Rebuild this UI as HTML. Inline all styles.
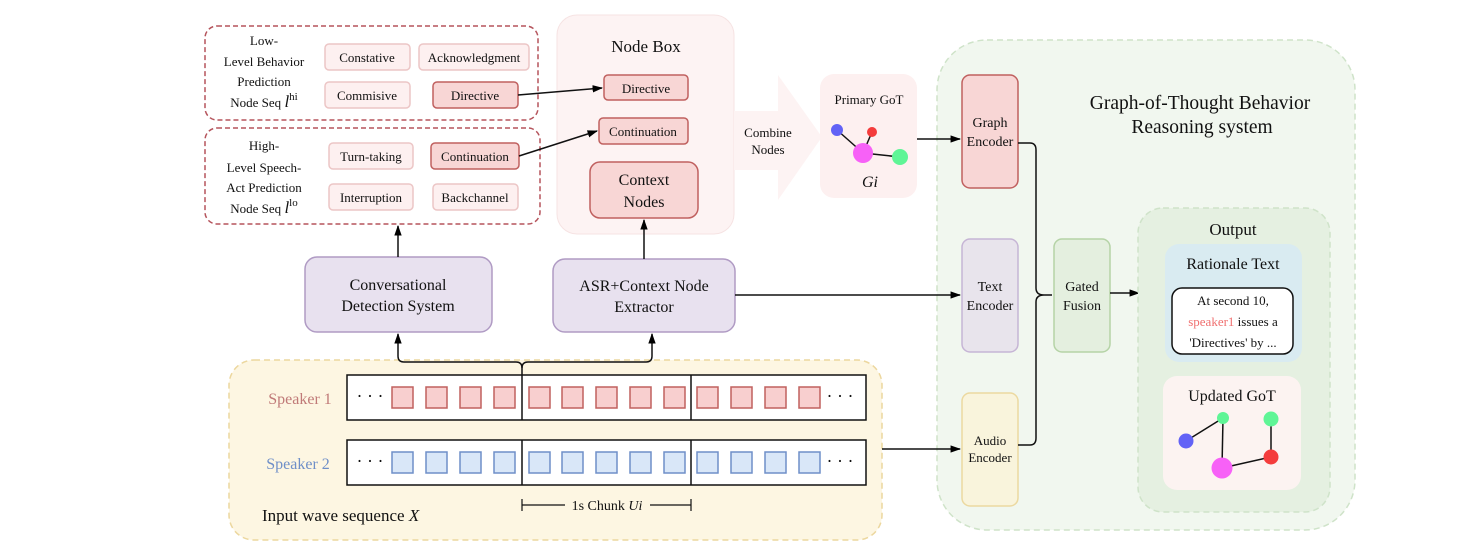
<!DOCTYPE html>
<html><head><meta charset="utf-8"><style>
body{margin:0;background:#fff}
svg{display:block}
text{font-family:"Liberation Serif","DejaVu Serif",serif;fill:#111}
</style></head><body>
<svg width="1466" height="558" viewBox="0 0 1466 558" xmlns="http://www.w3.org/2000/svg">
<defs>
<marker id="a" viewBox="0 0 10 10" refX="9" refY="5" markerWidth="7" markerHeight="7" orient="auto-start-reverse"><path d="M0,1.5 L10,5 L0,8.5 z" fill="#000"/></marker>
</defs>
<!-- big green system -->
<rect x="937" y="40" width="418" height="490" rx="50" fill="#f1f7ef" stroke="#cfe3c9" stroke-dasharray="6,4" stroke-width="1.5"/>
<text x="1200" y="109" font-size="19.5" text-anchor="middle">Graph-of-Thought Behavior</text>
<text x="1202" y="133" font-size="19.5" text-anchor="middle">Reasoning system</text>

<!-- input wave -->
<rect x="229" y="360" width="653" height="180" rx="25" fill="#fdf6e2" stroke="#ecd79e" stroke-dasharray="6,4" stroke-width="1.5"/>
<text x="262" y="521" font-size="17">Input wave sequence <tspan font-style="italic">X</tspan></text>
<text x="300" y="404" font-size="16" text-anchor="middle" style="fill:#c07a78">Speaker 1</text>
<text x="298" y="469" font-size="16" text-anchor="middle" style="fill:#6f8fc8">Speaker 2</text>
<rect x="347" y="375" width="519" height="45" fill="#fff" stroke="#111" stroke-width="1.5"/>
<rect x="347" y="440" width="519" height="45" fill="#fff" stroke="#111" stroke-width="1.5"/>
<line x1="522" y1="375" x2="522" y2="420" stroke="#111" stroke-width="1.5"/>
<line x1="691" y1="375" x2="691" y2="420" stroke="#111" stroke-width="1.5"/>
<line x1="522" y1="440" x2="522" y2="485" stroke="#111" stroke-width="1.5"/>
<line x1="691" y1="440" x2="691" y2="485" stroke="#111" stroke-width="1.5"/>
<text x="370" y="402" font-size="18" text-anchor="middle">· · ·</text>
<text x="840" y="402" font-size="18" text-anchor="middle">· · ·</text>
<text x="370" y="467" font-size="18" text-anchor="middle">· · ·</text>
<text x="840" y="467" font-size="18" text-anchor="middle">· · ·</text>
<g fill="#f8cfcf" stroke="#c0605f" stroke-width="1.5">
<rect x="392" y="387" width="21" height="21"/><rect x="426" y="387" width="21" height="21"/><rect x="460" y="387" width="21" height="21"/><rect x="494" y="387" width="21" height="21"/>
<rect x="529" y="387" width="21" height="21"/><rect x="562" y="387" width="21" height="21"/><rect x="596" y="387" width="21" height="21"/><rect x="630" y="387" width="21" height="21"/><rect x="664" y="387" width="21" height="21"/>
<rect x="697" y="387" width="21" height="21"/><rect x="731" y="387" width="21" height="21"/><rect x="765" y="387" width="21" height="21"/><rect x="799" y="387" width="21" height="21"/>
</g>
<g fill="#d9e7f8" stroke="#6f8fc8" stroke-width="1.5">
<rect x="392" y="452" width="21" height="21"/><rect x="426" y="452" width="21" height="21"/><rect x="460" y="452" width="21" height="21"/><rect x="494" y="452" width="21" height="21"/>
<rect x="529" y="452" width="21" height="21"/><rect x="562" y="452" width="21" height="21"/><rect x="596" y="452" width="21" height="21"/><rect x="630" y="452" width="21" height="21"/><rect x="664" y="452" width="21" height="21"/>
<rect x="697" y="452" width="21" height="21"/><rect x="731" y="452" width="21" height="21"/><rect x="765" y="452" width="21" height="21"/><rect x="799" y="452" width="21" height="21"/>
</g>
<path d="M522,499 v12 M522,505 H565 M650,505 H691 M691,499 v12" stroke="#111" stroke-width="1.2" fill="none"/>
<text x="607" y="510" font-size="14" text-anchor="middle">1s Chunk <tspan font-style="italic">Ui</tspan></text>
<!-- brace from wave -->
<path d="M522,375 V368 Q522,362 516,362 H404 Q398,362 398,356 V334" stroke="#111" stroke-width="1.5" fill="none" marker-end="url(#a)"/>
<path d="M522,368 Q522,362 528,362 H646 Q652,362 652,356 V334" stroke="#111" stroke-width="1.5" fill="none" marker-end="url(#a)"/>
<line x1="882" y1="449" x2="960" y2="449" stroke="#111" stroke-width="1.5" marker-end="url(#a)"/>

<!-- detection boxes -->
<rect x="305" y="257" width="187" height="75" rx="12" fill="#e8e1ef" stroke="#b09bc4" stroke-width="1.5"/>
<text x="398" y="290" font-size="16" text-anchor="middle">Conversational</text>
<text x="398" y="311" font-size="16" text-anchor="middle">Detection System</text>
<rect x="553" y="259" width="182" height="73" rx="12" fill="#e8e1ef" stroke="#b09bc4" stroke-width="1.5"/>
<text x="644" y="291" font-size="16" text-anchor="middle">ASR+Context Node</text>
<text x="644" y="312" font-size="16" text-anchor="middle">Extractor</text>
<line x1="735" y1="295" x2="960" y2="295" stroke="#111" stroke-width="1.5" marker-end="url(#a)"/>

<!-- dashed seq boxes -->
<rect x="205" y="26" width="333" height="94" rx="12" fill="#fff" stroke="#b5545c" stroke-dasharray="5,3" stroke-width="1.5"/>
<rect x="205" y="128" width="335" height="96" rx="12" fill="#fff" stroke="#b5545c" stroke-dasharray="5,3" stroke-width="1.5"/>
<g font-size="13" text-anchor="middle">
<text x="264" y="45">Low-</text><text x="264" y="66">Level Behavior</text><text x="264" y="86">Prediction</text><text x="264" y="107">Node Seq <tspan font-style="italic" font-size="17">l</tspan><tspan font-size="11" dy="-7">hi</tspan></text>
<text x="264" y="150">High-</text><text x="264" y="172">Level Speech-</text><text x="264" y="192">Act Prediction</text><text x="264" y="213">Node Seq <tspan font-style="italic" font-size="17">l</tspan><tspan font-size="11" dy="-7">lo</tspan></text>
</g>
<g stroke="#ecc6c6" stroke-width="1.5" fill="#fdf0f0">
<rect x="325" y="44" width="85" height="26" rx="4"/><rect x="419" y="44" width="110" height="26" rx="4"/>
<rect x="325" y="82" width="85" height="26" rx="4"/>
<rect x="329" y="143" width="84" height="26" rx="4"/><rect x="329" y="184" width="84" height="26" rx="4"/><rect x="433" y="184" width="85" height="26" rx="4"/>
</g>
<g stroke="#c0605f" stroke-width="1.5" fill="#f8d6d5">
<rect x="433" y="82" width="85" height="26" rx="4"/><rect x="431" y="143" width="88" height="26" rx="4"/>
</g>
<g font-size="13" text-anchor="middle">
<text x="367" y="62">Constative</text><text x="474" y="62">Acknowledgment</text>
<text x="367" y="100">Commisive</text><text x="475" y="100">Directive</text>
<text x="371" y="161">Turn-taking</text><text x="475" y="161">Continuation</text>
<text x="371" y="202">Interruption</text><text x="475" y="202">Backchannel</text>
</g>

<!-- node box -->
<rect x="557" y="15" width="177" height="219" rx="20" fill="#fdf3f3" stroke="#f6e3e3"/>
<text x="646" y="52" font-size="17" text-anchor="middle">Node Box</text>
<rect x="604" y="75" width="84" height="25" rx="4" fill="#f8d6d5" stroke="#c0605f" stroke-width="1.5"/>
<text x="646" y="93" font-size="13" text-anchor="middle">Directive</text>
<rect x="599" y="118" width="89" height="26" rx="4" fill="#f8d6d5" stroke="#c0605f" stroke-width="1.5"/>
<text x="643" y="136" font-size="13" text-anchor="middle">Continuation</text>
<rect x="590" y="162" width="108" height="56" rx="10" fill="#f8d6d5" stroke="#c0605f" stroke-width="1.5"/>
<text x="644" y="185" font-size="16" text-anchor="middle">Context</text>
<text x="644" y="207" font-size="16" text-anchor="middle">Nodes</text>
<line x1="518" y1="95" x2="602" y2="88" stroke="#111" stroke-width="1.5" marker-end="url(#a)"/>
<line x1="519" y1="156" x2="597" y2="131" stroke="#111" stroke-width="1.5" marker-end="url(#a)"/>
<line x1="398" y1="257" x2="398" y2="226" stroke="#111" stroke-width="1.5" marker-end="url(#a)"/>
<line x1="644" y1="259" x2="644" y2="220" stroke="#111" stroke-width="1.5" marker-end="url(#a)"/>

<!-- block arrow -->
<path d="M734,111 H778 V75 L822,137 L778,200 V170 H734 z" fill="#fdf3f3"/>
<text x="768" y="137" font-size="13" text-anchor="middle">Combine</text>
<text x="768" y="154" font-size="13" text-anchor="middle">Nodes</text>

<!-- primary GoT -->
<rect x="820" y="74" width="97" height="124" rx="14" fill="#fdf0f0"/>
<text x="869" y="104" font-size="13" text-anchor="middle">Primary GoT</text>
<g stroke="#111" stroke-width="1.5"><line x1="837" y1="130" x2="863" y2="153"/><line x1="872" y1="132" x2="863" y2="153"/><line x1="863" y1="153" x2="900" y2="157"/></g>
<circle cx="837" cy="130" r="6" fill="#6262f6"/><circle cx="872" cy="132" r="5" fill="#f43c3c"/><circle cx="863" cy="153" r="10" fill="#f761f7"/><circle cx="900" cy="157" r="8" fill="#5ff596"/>
<text x="870" y="187" font-size="16" font-style="italic" text-anchor="middle">Gi</text>
<line x1="917" y1="139" x2="960" y2="139" stroke="#111" stroke-width="1.5" marker-end="url(#a)"/>

<!-- encoders -->
<rect x="962" y="75" width="56" height="113" rx="8" fill="#f8d6d5" stroke="#c0605f" stroke-width="1.5"/>
<text x="990" y="127" font-size="14" text-anchor="middle">Graph</text><text x="990" y="146" font-size="14" text-anchor="middle">Encoder</text>
<rect x="962" y="239" width="56" height="113" rx="8" fill="#e8e4ec" stroke="#c6b5d5" stroke-width="1.5"/>
<text x="990" y="291" font-size="14" text-anchor="middle">Text</text><text x="990" y="310" font-size="14" text-anchor="middle">Encoder</text>
<rect x="962" y="393" width="56" height="113" rx="8" fill="#f9f4dc" stroke="#ecd9a0" stroke-width="1.5"/>
<text x="990" y="445" font-size="13" text-anchor="middle">Audio</text><text x="990" y="462" font-size="13" text-anchor="middle">Encoder</text>
<path d="M1018,143 H1030 Q1036,143 1036,150 V288 Q1036,295 1044,295 H1052 M1044,295 Q1036,295 1036,302 V438 Q1036,445 1030,445 H1018" stroke="#111" stroke-width="1.5" fill="none"/>
<rect x="1054" y="239" width="56" height="113" rx="8" fill="#e4efdf" stroke="#b5d3a6" stroke-width="1.5"/>
<text x="1082" y="291" font-size="14" text-anchor="middle">Gated</text><text x="1082" y="310" font-size="14" text-anchor="middle">Fusion</text>
<line x1="1110" y1="293" x2="1139" y2="293" stroke="#111" stroke-width="1.5" marker-end="url(#a)"/>

<!-- output -->
<rect x="1138" y="208" width="192" height="304" rx="25" fill="#e5f0e1" stroke="#cfe3c9" stroke-dasharray="6,4" stroke-width="1.5"/>
<text x="1233" y="235" font-size="17" text-anchor="middle">Output</text>
<rect x="1165" y="244" width="137" height="118" rx="14" fill="#d9ebf1"/>
<text x="1233" y="269" font-size="16" text-anchor="middle">Rationale Text</text>
<rect x="1172" y="288" width="121" height="66" rx="10" fill="#fff" stroke="#111" stroke-width="1.5"/>
<g font-size="13" text-anchor="middle"><text x="1233" y="305">At second 10,</text><text x="1233" y="326"><tspan style="fill:#f07070">speaker1</tspan> issues a</text><text x="1233" y="347">'Directives' by ...</text></g>
<rect x="1163" y="376" width="138" height="114" rx="14" fill="#fcf3f1"/>
<text x="1232" y="401" font-size="16" text-anchor="middle">Updated GoT</text>
<g stroke="#111" stroke-width="1.5"><line x1="1186" y1="441" x2="1223" y2="418"/><line x1="1223" y1="418" x2="1222" y2="468"/><line x1="1222" y1="468" x2="1271" y2="457"/><line x1="1271" y1="419" x2="1271" y2="457"/></g>
<circle cx="1186" cy="441" r="7.5" fill="#6262f6"/><circle cx="1223" cy="418" r="6" fill="#5ff596"/><circle cx="1271" cy="419" r="7.5" fill="#5ff596"/><circle cx="1222" cy="468" r="10.5" fill="#f761f7"/><circle cx="1271" cy="457" r="7.5" fill="#f43c3c"/>
</svg>
</body></html>
